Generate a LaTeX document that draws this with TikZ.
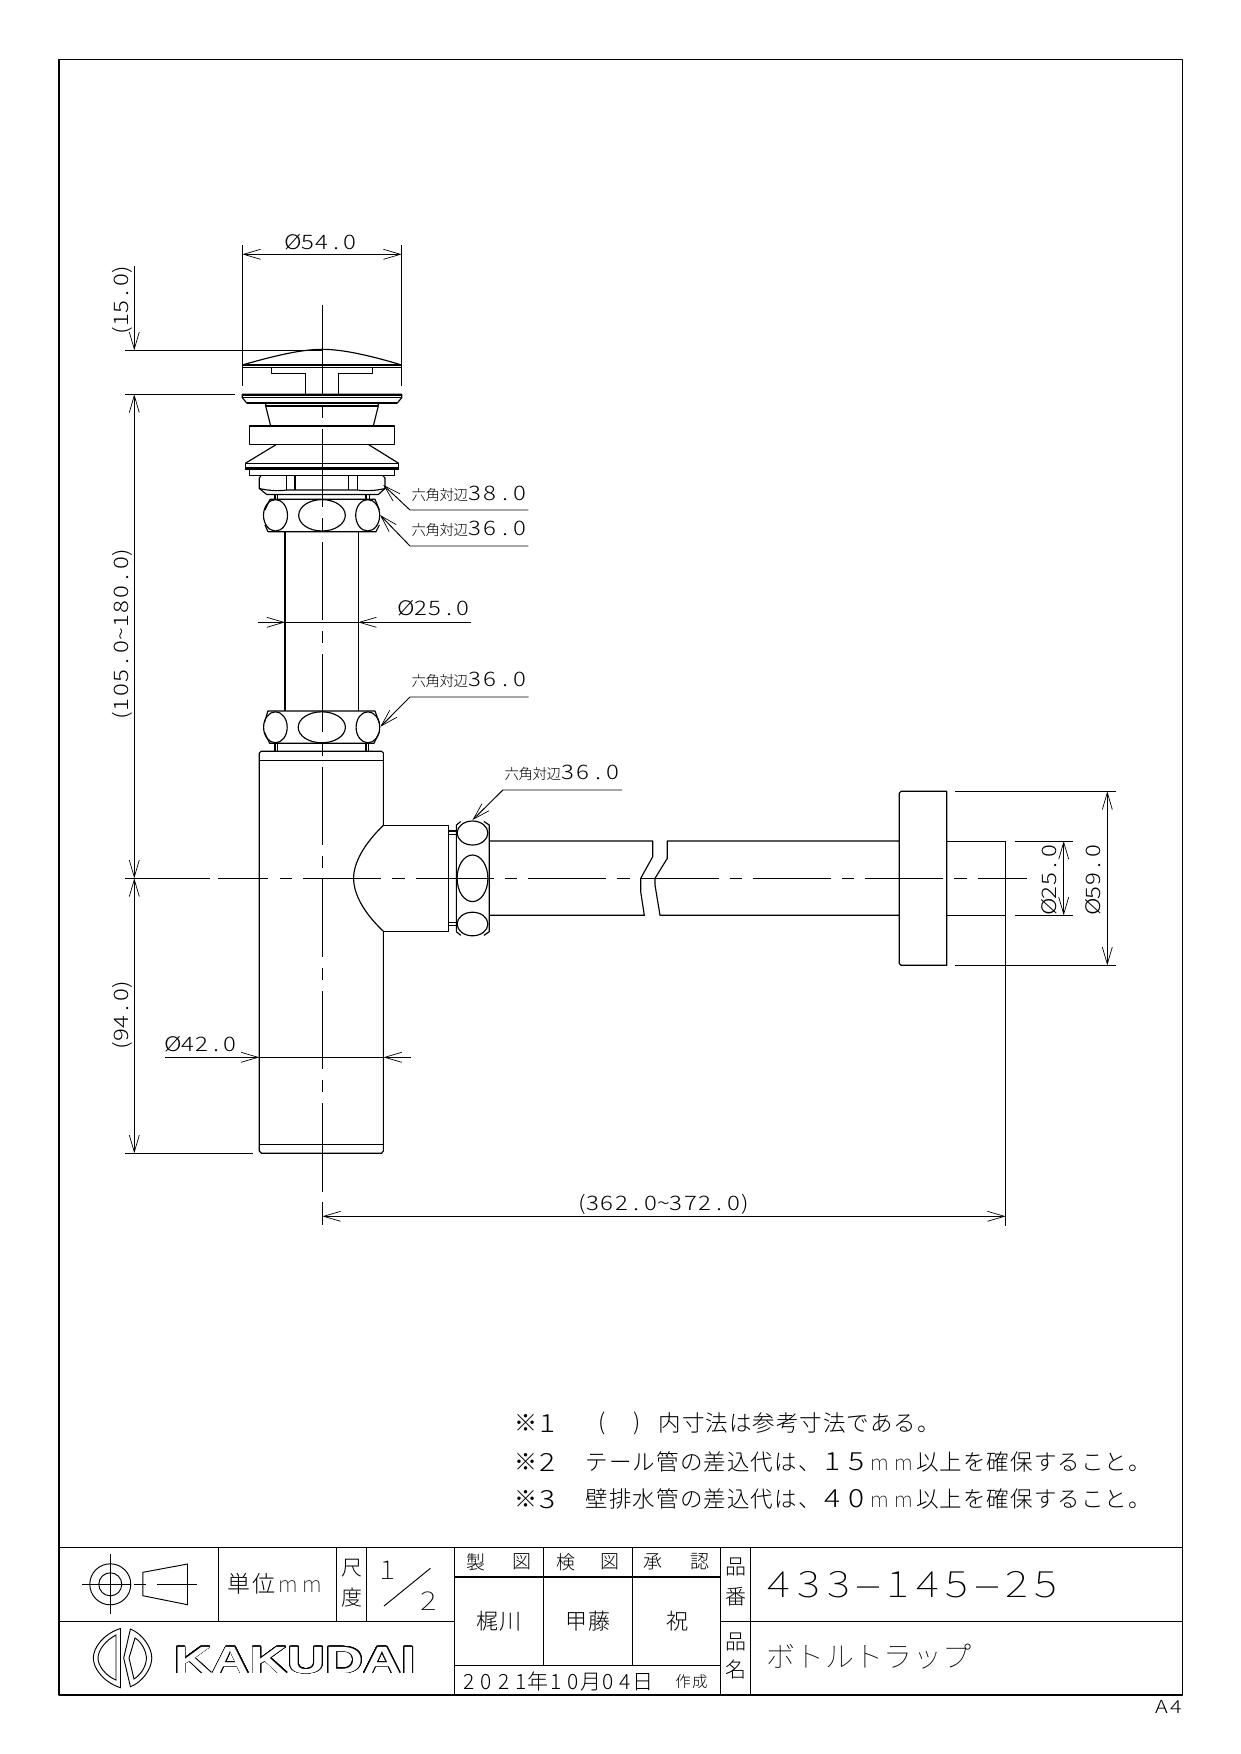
\documentclass[tikz,border=0pt]{standalone}
\usepackage{fontspec}
\usepackage[copies]{contour}
\usetikzlibrary{arrows.meta}
\setmainfont{Noto Sans CJK JP Light}
\newfontfamily\logofont[FakeStretch=1.38]{Liberation Sans Bold}
\newfontfamily\dg[FakeStretch=1.2]{Noto Sans CJK JP Light}
\newfontfamily\dgt[FakeStretch=1.2]{Noto Sans CJK JP Thin}
\newfontfamily\jpt{Noto Sans CJK JP Thin}
\contourlength{0.75pt}
\contournumber{32}
\makeatletter
\newcommand\pitched[2]{\@tfor\pch:=#2\do{\makebox[#1][c]{\pch}}}
\makeatother
\newcommand\fs[1]{\fontsize{#1}{#1}\selectfont}
\newcommand\dm[2][14.2pt]{\dg\fs{20}\pitched{#1}{#2}}
\newcommand\pdm[2][14pt]{\dg\fs{20}\makebox[7pt]{(}\pitched{#1}{#2}\makebox[7pt]{)}}
\newcommand\rng[2]{\dg\fs{20}\makebox[7pt]{(}\pitched{14.5pt}{#1}\makebox[11pt]{\textasciitilde}\pitched{14.5pt}{#2}\makebox[7pt]{)}}
\newcommand\hexl[1]{{\fs{14.5}\pitched{14pt}{六角対辺}}{\dg\fs{20}\pitched{15pt}{#1}}}
\newcommand\nd[1]{{\dg\fs{25}#1}}
\newcommand\nm{{\jpt\fs{21}m}}
\tikzset{
  obj/.style={line width=1.15pt,line join=round},
  heavy/.style={line width=2.3pt},
  dim/.style={line width=0.95pt},
  tip/.style={dim,-{Straight Barb[length=17pt,width=10pt,line width=0.7pt]}},
  lbl/.style={inner sep=0pt,anchor=base},
  lblw/.style={inner sep=0pt,anchor=base west},
  rot/.style={inner sep=0pt,anchor=base,rotate=90},
  tx/.style={inner sep=0pt,anchor=center},
  cent/.style={line width=1.05pt,dash pattern=on 12.4pt off 11pt on 78pt off 11pt}
}
\begin{document}
\begin{tikzpicture}[x=1pt,y=-1pt]
\useasboundingbox (0,0) rectangle (1240,1754);
\fill[white] (0,0) rectangle (1240,1754);
% frame
\draw[obj] (59,59.5) rectangle (1182.5,1695);
% centre lines
\draw[obj] (322.4,305) -- (322.4,394.6);
\draw[cent] (322.4,406) -- (322.4,1092);
\draw[obj] (322.4,1103) -- (322.4,1192) (322.4,1202) -- (322.4,1225);
\draw[obj] (125,878.3) -- (210,878.3) (218.3,878.3) -- (268.3,878.3);
\draw[cent] (280,878.3) -- (1027,878.3);
% cap
\draw[obj] (242.3,365) .. controls (270,357) and (300,349.3) .. (322.3,349.3) .. controls (345,349.3) and (375,357) .. (401.7,365);
\draw[obj] (242.3,365) -- (401.7,365) (242.3,367.3) -- (401.7,367.3);
\draw[obj] (271.7,367.3) -- (271.7,373.3) -- (305.7,373.3) -- (305.7,394.3);
\draw[obj] (372.3,367.3) -- (372.3,373.3) -- (338.3,373.3) -- (338.3,394.3);
% flange
\draw[obj] (242.3,394.3) -- (242.3,397.7) -- (246.7,403) -- (397.3,403) -- (401.7,397.7) -- (401.7,394.3) -- cycle;
\draw[heavy] (242.3,395) -- (401.7,395);
\draw[obj] (242.3,397.7) -- (401.7,397.7);
\draw[obj] (246.7,403) -- (397.3,403);
\draw[heavy] (265.7,405.8) -- (378.3,405.8);
\draw[obj] (265.7,403) -- (265.7,406) -- (270.7,426) (378.3,403) -- (378.3,406) -- (373.3,426);
\draw[obj] (249.3,426) rectangle (394.7,444.7);
\draw[obj] (276,444.7) -- (245.3,463.3) (368.7,444.7) -- (398.7,463.3);
\draw[obj] (245.3,463.3) rectangle (398.7,468.7);
\draw[heavy] (245.3,468.4) -- (398.7,468.4);
\draw[obj] (249.3,468.7) rectangle (394.7,475.7);
% upper hex
\draw[obj] (261,475.7) -- (259.3,478) -- (259.3,488.5) -- (266.7,494.5) -- (378.3,494.5) -- (385,488.5) -- (385,478) -- (383,475.7);
\draw[obj] (259.3,488.5) .. controls (270,491) and (280,491) .. (286.7,490) -- (357.3,490) .. controls (365,491) and (375,491) .. (385,488.5);
\draw[obj] (286.7,475.7) -- (286.7,490) (295,475.7) -- (295,490) (348.3,475.7) -- (348.3,490) (357.3,475.7) -- (357.3,490);
\draw[obj] (275,494.5) -- (275,499.3) (277.7,494.5) -- (277.7,499.3) (366,494.5) -- (366,499.3) (369.3,494.5) -- (369.3,499.3);
% nut 1
\draw[obj] (265,510) -- (270,499.3) -- (375,499.3) -- (379.3,510) (265,525) -- (268,531.7) -- (376,531.7) -- (379.3,525);
\draw[obj] (275.5,515.3) ellipse [x radius=12,y radius=15.7];
\draw[obj] (322,515.3) ellipse [x radius=23.3,y radius=15.7];
\draw[obj] (367.7,515.3) ellipse [x radius=12,y radius=15.7];
% pipe
\draw[line width=1.9pt] (285,531.7) -- (285,711);
\draw[obj] (358.2,531.7) -- (358.2,711);
% nut 2
\draw[obj] (264.3,723) -- (267.9,711) -- (375,711) -- (379.4,723) (264.3,732) -- (269.6,743.3) -- (374,743.3) -- (379.4,732);
\draw[obj] (275.4,727.3) ellipse [x radius=11.8,y radius=15.5];
\draw[obj] (321.8,727.3) ellipse [x radius=23.6,y radius=15.5];
\draw[obj] (367.9,727.3) ellipse [x radius=11.8,y radius=15.5];
\draw[obj] (275,743.3) -- (275,751.3) (277.5,743.3) -- (277.5,751.3) (366,743.3) -- (366,751.3) (368.6,743.3) -- (368.6,751.3);
% body
\draw[obj] (383.4,825.3) -- (383.4,753) -- (381.7,751.3) -- (261,751.3) -- (259.3,753) -- (259.3,1151) -- (261.5,1153.3) -- (381.5,1153.3) -- (383.4,1151) -- (383.4,931.3);
\draw[obj] (259.3,760.3) -- (383.4,760.3) (259.3,1144.3) -- (383.4,1144.3);
% branch
\draw[obj] (383.4,825.3) .. controls (365,843) and (353.6,862) .. (353.6,878.3) .. controls (353.6,895) and (365,914) .. (383.4,931.3);
\draw[obj] (383.4,825.3) -- (448.2,825.3) -- (448.2,931.3) -- (383.4,931.3);
\draw[obj] (448.2,831) -- (456.4,831) (448.2,834.3) -- (456.4,834.3) (448.2,922.3) -- (456.4,922.3) (448.2,925.7) -- (456.4,925.7);
% nut 3
\draw[obj] (456.4,931.7) -- (456.4,825) -- (460.7,821.5) (483.9,821.5) -- (489.3,825) -- (489.3,931.7) -- (483.9,935.3) (460.7,935.3) -- (456.4,931.7);
\draw[obj] (472.5,833) ellipse [x radius=15.4,y radius=12];
\draw[obj] (472.5,878.3) ellipse [x radius=15.4,y radius=23.3];
\draw[obj] (472.5,924) ellipse [x radius=15.4,y radius=11.8];
% horizontal pipe
\draw[obj] (489.3,841) -- (652.7,841) -- (652.7,856.7) -- (640.7,878.3) -- (640.7,891.7) -- (644.3,915.3) -- (489.3,915.3);
\draw[obj] (899.3,841) -- (667.3,841) -- (667.3,858.3) -- (655,878.3) -- (655,885) -- (660,915.3) -- (899.3,915.3);
% wall flange
\draw[obj] (946.7,791.3) -- (901,791.3) -- (899.3,793) -- (899.3,963.5) -- (901,965.3) -- (946.7,965.3) -- cycle;
\draw[dim] (946.7,841) -- (1005.7,841) (946.7,915.3) -- (1005.7,915.3);
\draw[dim] (1005.7,841) -- (1005.7,1225.7);
% dims top
\draw[dim] (242.3,245) -- (242.3,386) (401.7,245) -- (401.7,386);
\draw[tip] (322,254.3) -- (242.3,254.3);
\draw[tip] (322,254.3) -- (401.7,254.3);
\node[lbl] (d54) at (322,249.3) {\dm{Ø54.0}};
% left dim chain
\draw[dim] (125,350.3) -- (322.4,350.3) (125,394.3) -- (235,394.3);
\draw[tip] (134.3,266) -- (134.3,350.3);
\draw[tip] (134.3,600) -- (134.3,394.3);
\draw[tip] (134.3,600) -- (134.3,878.3);
\draw[tip] (134.3,1000) -- (134.3,878.3);
\draw[tip] (134.3,1000) -- (134.3,1153.3);
\draw[dim] (125,1153.3) -- (252.5,1153.3);
\node[rot] (d15) at (128.3,300) {\pdm[13.5pt]{15.0}};
\node[rot] (d105) at (128.3,634) {\rng{105.0}{180.0}};
\node[rot] (d94) at (128.3,1015) {\pdm[13.5pt]{94.0}};
% Ø25 pipe
\draw[dim] (285,622.3) -- (358.2,622.3);
\draw[tip] (257.9,622.3) -- (285,622.3);
\draw[tip] (471.4,622.3) -- (358.2,622.3);
\node[lbl] (d25a) at (434.8,615.7) {\dm{Ø25.0}};
% Ø42
\draw[dim] (259.3,1057.3) -- (383.5,1057.3);
\draw[tip] (165,1057.3) -- (259.3,1057.3);
\draw[tip] (410.7,1057.3) -- (383.5,1057.3);
\node[lbl] (d42) at (202,1051.7) {\dm{Ø42.0}};
% bottom dim
\draw[tip] (664,1216.3) -- (322.4,1216.3);
\draw[tip] (664,1216.3) -- (1005.7,1216.3);
\node[lbl] (d362) at (663.5,1210.7) {\rng{362.0}{372.0}};
% right dims
\draw[dim] (955,791.3) -- (1116,791.3) (955,965.3) -- (1116,965.3);
\draw[dim] (1014.7,841) -- (1072.7,841) (1014.7,915.3) -- (1072.7,915.3);
\draw[tip] (1063.7,878) -- (1063.7,841);
\draw[tip] (1063.7,878) -- (1063.7,915.3);
\draw[tip] (1107.3,878) -- (1107.3,791.3);
\draw[tip] (1107.3,878) -- (1107.3,965.3);
\node[rot] (d25b) at (1056.7,879) {\dm[13.8pt]{Ø25.0}};
\node[rot] (d59) at (1100.7,879) {\dm[13.8pt]{Ø59.0}};
% leaders
\draw[tip] (528.3,510) -- (410,510) -- (383.3,485);
\draw[tip] (528.3,546) -- (410,546) -- (380,515);
\draw[tip] (528.6,697) -- (410,697) -- (380.4,726.7);
\draw[tip] (622,790) -- (502.9,790) -- (472.5,820);
\node[lblw] (h38) at (411.7,500.7) {\hexl{38.0}};
\node[lblw] (h36a) at (411.7,535.7) {\hexl{36.0}};
\node[lblw] (h36b) at (411.7,686.7) {\hexl{36.0}};
\node[lblw] (h36c) at (504.6,779.3) {\hexl{36.0}};
% notes
\node[tx] (n1a) at (526,1423.3) {\fs{23}※};
\node[tx] (n2a) at (526,1461.7) {\fs{23}※};
\node[tx] (n3a) at (526,1499.3) {\fs{23}※};
\node[lbl] (n1b) at (548,1432) {\nd{1}};
\node[lbl] (n2b) at (548,1471) {\nd{2}};
\node[lbl] (n3b) at (548,1508.5) {\nd{3}};
\node[tx] (n1c) at (601.7,1423.3) {\fs{23}(};
\node[tx] (n1d) at (636.7,1423.3) {\fs{23})};
\node[lblw] (n1e) at (658,1431.5) {\fs{22.5}\pitched{23.5pt}{内寸法は参考寸法である。}};
\node[lblw] (n2e) at (585,1470) {\fs{22.5}\pitched{23.6pt}{テール管の差込代は、{\nd{1}}{\nd{5}}{\nm}{\nm}以上を確保すること。}};
\node[lblw] (n3e) at (585,1507.5) {\fs{22.5}\pitched{23.6pt}{壁排水管の差込代は、{\nd{4}}{\nd{0}}{\nm}{\nm}以上を確保すること。}};
% title block lines
\draw[obj] (59,1547.3) -- (1182.5,1547.3);
\draw[obj] (59,1621.3) -- (454.5,1621.3) (720.5,1621.3) -- (1182.5,1621.3);
\draw[obj] (454.5,1547.3) -- (454.5,1695) (720.5,1547.3) -- (720.5,1695) (750.7,1547.3) -- (750.7,1695);
\draw[obj] (218.7,1547.3) -- (218.7,1621.3) (336.6,1547.3) -- (336.6,1621.3) (366.5,1547.3) -- (366.5,1621.3);
\draw[obj] (543.3,1547.3) -- (543.3,1665.3) (632.6,1547.3) -- (632.6,1665.3);
\draw[heavy] (454.5,1577) -- (720.5,1577);
\draw[obj] (454.5,1665.3) -- (720.5,1665.3);
% projection symbol
\draw[dim] (110.3,1584.3) ellipse [x radius=20.5,y radius=20.5];
\draw[dim] (110.3,1584.3) ellipse [x radius=11.5,y radius=11.5];
\draw[dim] (82,1584.3) -- (131,1584.3) (133.5,1584.3) -- (146,1584.3) (157,1584.3) -- (197,1584.3);
\draw[dim] (110.3,1554) -- (110.3,1614.3);
\draw[dim] (142.9,1572.3) -- (187.5,1564) -- (187.5,1604.7) -- (142.9,1595.7) -- cycle;
% logo mark
\draw[dim] (120.5,1628.5) .. controls (103,1634) and (93.3,1648) .. (93.3,1658) .. controls (93.3,1668) and (103,1682) .. (120.5,1687.7) -- cycle;
\draw[dim] (116,1635) .. controls (106,1640) and (98,1650) .. (98,1658) .. controls (98,1666) and (106,1676) .. (116,1680) -- cycle;
\draw[dim] (130.4,1629) .. controls (143,1634) and (151.8,1648) .. (151.8,1658) .. controls (151.8,1668) and (143,1682) .. (130.4,1686.7) -- (123.7,1658) -- cycle;
\draw[dim] (135,1638) .. controls (142,1642) and (146.4,1652) .. (146.4,1658) .. controls (146.4,1665) and (142,1674) .. (134,1679) -- (129,1658) -- cycle;
\node[inner sep=0pt,anchor=base,text=white] (logo) at (295,1673) {\logofont\fs{38}\contour{black}{KAKUDAI}};
% title block text
\node[lbl] (unit) at (276,1592) {\fs{23}\pitched{24.5pt}{単位{\jpt\fs{22}m}{\jpt\fs{22}m}}};
\node[tx] (sc1) at (352,1568) {\fs{21}尺};
\node[tx] (sc2) at (352,1597.5) {\fs{21}度};
\node[lbl] (r1) at (388,1579) {\dgt\fs{26}1};
\draw[dim] (384,1606) -- (430.4,1568.3);
\node[lbl] (r2) at (429,1610) {\dgt\fs{26}2};
\node[tx] (k1) at (476.3,1562) {\fs{19}製};
\node[tx] (k2) at (521.9,1562) {\fs{19}図};
\node[tx] (k3) at (565.6,1562) {\fs{19}検};
\node[tx] (k4) at (610.3,1562) {\fs{19}図};
\node[tx] (k5) at (652.7,1562) {\fs{19}承};
\node[tx] (k6) at (699.6,1562) {\fs{19}認};
\node[tx] (s1) at (499,1620.7) {\fs{22}\pitched{23.5pt}{梶川}};
\node[tx] (s2) at (588,1620.7) {\fs{22}\pitched{23.5pt}{甲藤}};
\node[tx] (s3) at (677,1620.7) {\fs{22}祝};
\node[lblw] (date) at (460,1689) {\fs{21}\pitched{17.4pt}{2021年10月04日}};
\node[tx] (made) at (691.5,1681.5) {\fs{15.5}\pitched{17pt}{作成}};
\node[tx] (p1) at (736,1567) {\fs{21}品};
\node[tx] (p2) at (736,1596.7) {\fs{21}番};
\node[tx] (p3) at (736,1641.7) {\fs{21}品};
\node[tx] (p4) at (736,1670) {\fs{21}名};
\node[lblw] (no) at (764,1597.3) {\dgt\fs{36.4}\pitched{29.7pt}{433{\scalebox{2.1}[1]{-}}145{\scalebox{2.1}[1]{-}}25}};
\node[tx] (name) at (869,1656.7) {\jpt\fs{29}\pitched{29.3pt}{ボトルトラップ}};
\node[lblw] (a4) at (1154,1713.3) {\dg\fs{18}\pitched{15pt}{A4}};
\end{tikzpicture}
\end{document}
